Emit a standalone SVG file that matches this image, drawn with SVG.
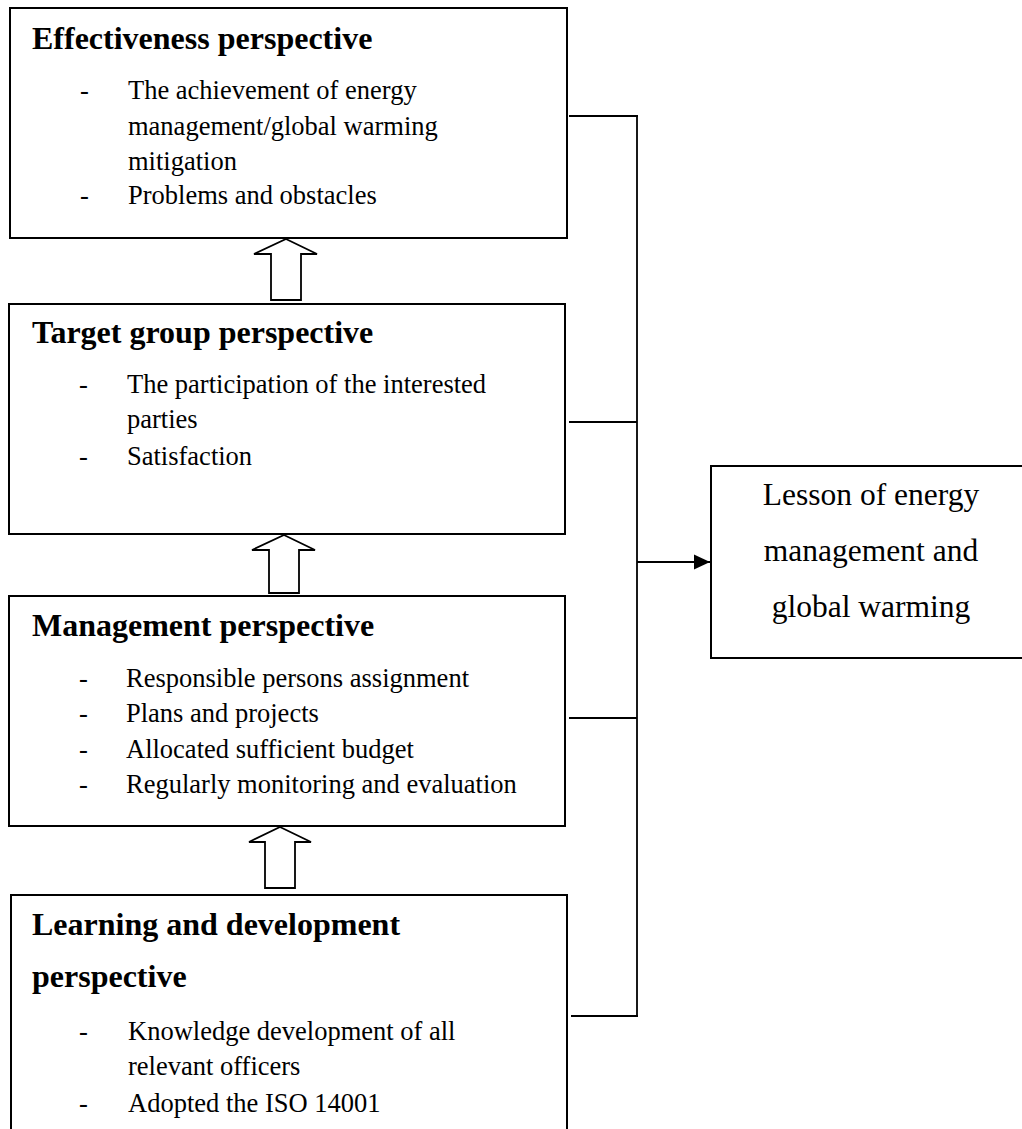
<svg xmlns="http://www.w3.org/2000/svg" width="1022" height="1129" viewBox="0 0 1022 1129">
  <style>
    .box { fill: #fff; stroke: #000; stroke-width: 2; }
    .title { font-family: "Liberation Serif", "Times New Roman", serif; font-weight: bold; font-size: 32px; fill: #000; }
    .item { font-family: "Liberation Serif", "Times New Roman", serif; font-size: 26.5px; fill: #000; }
    .lesson { font-family: "Liberation Serif", "Times New Roman", serif; font-size: 31.5px; fill: #000; text-anchor: middle; }
    .link { fill: none; stroke: #000; stroke-width: 1.8; }
    .up { fill: #fff; stroke: #000; stroke-width: 1.8; stroke-linejoin: miter; }
  </style>
  <defs>
    <marker id="head" markerWidth="17" markerHeight="16" refX="16" refY="8" orient="auto" markerUnits="userSpaceOnUse">
      <path d="M0,0.5 L0,15.5 L16,8 Z" fill="#000"/>
    </marker>
  </defs>
  <rect width="1022" height="1129" fill="#fff"/>

  <g id="effectiveness">
    <rect class="box" x="10" y="8" width="557" height="230"/>
    <text class="title" x="32" y="49">Effectiveness perspective</text>
    <text class="item" x="80" y="99">-</text>
    <text class="item" x="128" y="99">The achievement of energy</text>
    <text class="item" x="128" y="135">management/global warming</text>
    <text class="item" x="128" y="170">mitigation</text>
    <text class="item" x="80" y="204">-</text>
    <text class="item" x="128" y="204">Problems and obstacles</text>
  </g>

  <g id="target-group">
    <rect class="box" x="9" y="304" width="556" height="230"/>
    <text class="title" x="32" y="343">Target group perspective</text>
    <text class="item" x="79" y="393">-</text>
    <text class="item" x="127" y="393">The participation of the interested</text>
    <text class="item" x="127" y="428">parties</text>
    <text class="item" x="79" y="465">-</text>
    <text class="item" x="127" y="465">Satisfaction</text>
  </g>

  <g id="management">
    <rect class="box" x="9" y="596" width="556" height="230"/>
    <text class="title" x="32" y="636">Management perspective</text>
    <text class="item" x="79" y="687">-</text>
    <text class="item" x="126" y="687">Responsible persons assignment</text>
    <text class="item" x="79" y="722">-</text>
    <text class="item" x="126" y="722">Plans and projects</text>
    <text class="item" x="79" y="758">-</text>
    <text class="item" x="126" y="758">Allocated sufficient budget</text>
    <text class="item" x="79" y="793">-</text>
    <text class="item" x="126" y="793">Regularly monitoring and evaluation</text>
  </g>

  <g id="learning">
    <rect class="box" x="11" y="895" width="556" height="250"/>
    <text class="title" x="32" y="935">Learning and development</text>
    <text class="title" x="32" y="987">perspective</text>
    <text class="item" x="79" y="1040">-</text>
    <text class="item" x="128" y="1040">Knowledge development of all</text>
    <text class="item" x="128" y="1075">relevant officers</text>
    <text class="item" x="79" y="1112">-</text>
    <text class="item" x="128" y="1112">Adopted the ISO 14001</text>
  </g>

  <g id="lesson">
    <rect class="box" x="711" y="466" width="320" height="192"/>
    <text class="lesson" x="871" y="505">Lesson of energy</text>
    <text class="lesson" x="871" y="561">management and</text>
    <text class="lesson" x="871" y="617">global warming</text>
  </g>

  <g id="connectors">
    <!-- block arrows between the stacked perspectives -->
    <path class="up" d="M286,239 L317,254 L301,254 L301,300 L271,300 L271,254 L254,254 Z"/>
    <path class="up" d="M284,535 L315,550 L299,550 L299,593 L269,593 L269,550 L252,550 Z"/>
    <path class="up" d="M280,827 L311,842 L295,842 L295,888 L265,888 L265,842 L249,842 Z"/>
    <!-- bracket gathering the four perspectives -->
    <line class="link" x1="569" y1="116" x2="638" y2="116"/>
    <line class="link" x1="569" y1="422" x2="637" y2="422"/>
    <line class="link" x1="569" y1="718" x2="637" y2="718"/>
    <line class="link" x1="571" y1="1016" x2="638" y2="1016"/>
    <line class="link" x1="637" y1="116" x2="637" y2="1016"/>
    <line class="link" x1="637" y1="562" x2="710" y2="562" marker-end="url(#head)"/>
  </g>
</svg>
